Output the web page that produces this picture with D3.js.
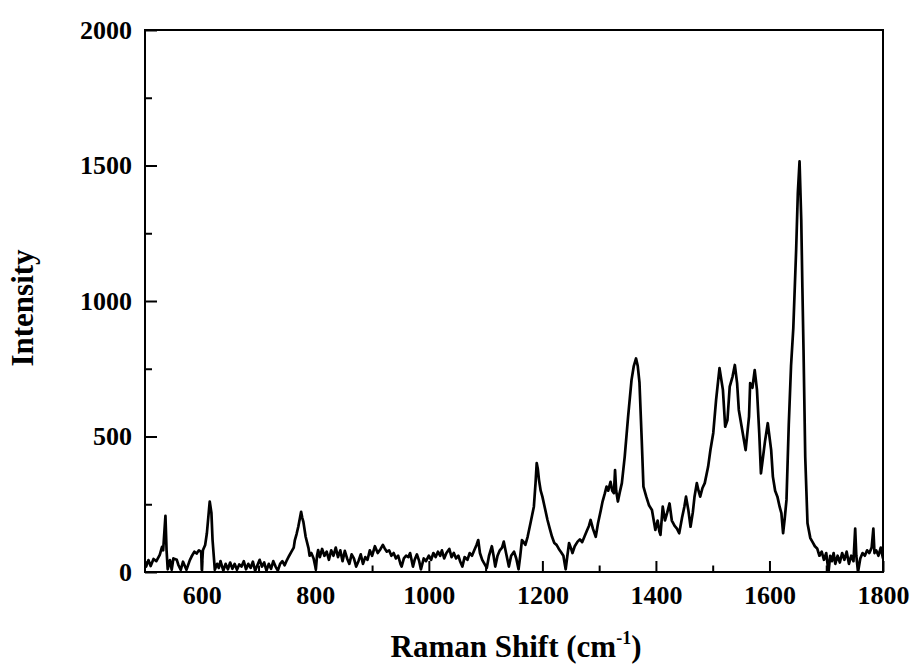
<!DOCTYPE html>
<html>
<head>
<meta charset="utf-8">
<script src="https://cdn.jsdelivr.net/npm/d3@7"></script>
<style>
  html, body { margin: 0; padding: 0; background: #fff; }
  svg { display: block; }
  .tick text { font-family: "Liberation Serif", "Times New Roman", serif; font-weight: bold; font-size: 26px; fill: #000; }
  .title { font-family: "Liberation Serif", "Times New Roman", serif; font-weight: bold; fill: #000; }
</style>
</head>
<body>
<svg id="chart" width="912" height="666"></svg>
<script>
// Raman shift (cm^-1) and intensity
const shift = [500,502,506,510,515,520,526,530,532,536,538,540,544,547,550,556,559,563,567,573,579,582,587,591,595,599,600,602,606,609,614,617,619,623,627,630,633,638,642,646,650,654,658,662,666,670,674,678,682,686,690,694,698,702,706,710,714,718,722,726,730,734,738,742,746,750,754,758,762,764,767,770,773,775,777,779,783,788,790,793,797,801,803,805,808,812,816,820,824,828,832,836,840,844,848,852,856,860,864,868,872,876,880,884,888,892,896,900,905,910,915,919,922,926,930,934,938,942,946,950,952,956,960,964,967,972,975,979,983,986,991,995,1000,1004,1008,1012,1016,1020,1023,1027,1031,1036,1040,1044,1048,1052,1055,1059,1063,1068,1072,1076,1080,1084,1087,1090,1094,1098,1102,1106,1111,1114,1117,1121,1125,1129,1132,1136,1141,1145,1150,1154,1158,1161,1164,1167,1170,1174,1179,1182,1185,1188,1190,1192,1194,1197,1200,1204,1209,1213,1217,1221,1225,1229,1233,1237,1241,1244,1247,1250,1253,1257,1262,1266,1270,1274,1278,1282,1285,1289,1294,1298,1303,1306,1310,1313,1316,1320,1323,1326,1328,1330,1333,1336,1340,1345,1351,1357,1361,1365,1368,1371,1375,1378,1383,1388,1393,1397,1399,1403,1406,1408,1412,1416,1420,1424,1428,1433,1437,1441,1446,1450,1453,1457,1461,1465,1468,1472,1475,1478,1482,1486,1492,1496,1501,1506,1512,1518,1522,1526,1530,1535,1539,1543,1546,1552,1558,1564,1566,1570,1574,1578,1582,1585,1588,1592,1597,1603,1606,1610,1614,1618,1621,1624,1627,1630,1634,1638,1642,1647,1650,1653,1656,1658,1660,1663,1667,1672,1676,1680,1684,1688,1692,1696,1700,1704,1707,1710,1713,1716,1720,1724,1728,1732,1736,1740,1744,1748,1751,1753,1756,1760,1764,1768,1772,1776,1780,1783,1785,1788,1792,1796,1800];
const intensity = [40,20,44,22,48,40,63,93,80,207,80,10,44,8,50,45,25,8,38,8,44,57,75,68,80,74,8,80,100,143,260,218,118,8,30,15,40,5,30,10,35,12,30,8,28,20,40,10,30,15,38,5,25,45,20,35,5,30,12,40,20,5,30,40,25,44,60,75,90,118,140,167,200,222,200,185,130,88,60,70,50,10,60,81,55,85,60,75,45,80,60,90,55,80,40,78,50,30,65,50,20,40,65,30,55,45,80,60,95,70,85,100,88,75,80,60,70,50,60,30,20,50,60,55,70,20,45,65,40,10,50,40,60,45,70,55,75,60,80,50,70,85,55,70,50,60,40,20,55,45,70,60,80,100,118,70,45,30,15,60,95,60,20,60,80,90,112,70,20,60,75,50,10,60,118,110,100,130,180,210,241,330,402,380,340,300,278,240,192,160,130,107,100,85,73,60,10,60,107,90,70,95,112,120,110,130,150,170,192,160,130,180,229,260,290,315,300,333,300,291,376,300,260,291,328,425,573,708,760,788,760,700,487,315,278,245,229,180,155,190,150,137,241,190,220,253,190,170,160,143,200,240,278,230,167,220,278,328,300,278,310,328,389,450,513,635,752,672,536,561,684,721,764,697,598,524,450,573,697,680,745,672,512,364,413,480,549,450,352,300,278,240,217,143,200,266,543,760,900,1188,1400,1515,1300,1050,819,425,180,125,110,95,87,60,75,45,70,0,60,40,70,30,60,35,70,45,75,30,60,40,160,60,0,50,70,60,80,70,90,160,70,80,60,90,50];

const xMajor = [600, 800, 1000, 1200, 1400, 1600, 1800];
const xMinor = [700, 900, 1100, 1300, 1500, 1700];
const yMajor = [0, 500, 1000, 1500, 2000];
const yMinor = [250, 750, 1250, 1750];

const m = { left: 145, top: 30, right: 29, bottom: 94 };
const W = 912, H = 666;
const iw = W - m.left - m.right, ih = H - m.top - m.bottom;

const svg = d3.select("#chart");
const g = svg.append("g").attr("transform", `translate(${m.left},${m.top})`);

const x = d3.scaleLinear().domain([500, 1800]).range([0, iw]);
const y = d3.scaleLinear().domain([0, 2000]).range([ih, 0]);

// minor ticks
g.append("g").attr("transform", `translate(0,${ih})`)
  .call(d3.axisBottom(x).tickValues(xMinor).tickSize(-6.5).tickSizeOuter(0).tickFormat(""))
  .call(s => s.select(".domain").remove())
  .call(s => s.selectAll("line").attr("stroke-width", 2));
g.append("g")
  .call(d3.axisLeft(y).tickValues(yMinor).tickSize(-7).tickSizeOuter(0).tickFormat(""))
  .call(s => s.select(".domain").remove())
  .call(s => s.selectAll("line").attr("stroke-width", 2));

// major ticks
g.append("g").attr("transform", `translate(0,${ih})`)
  .call(d3.axisBottom(x).tickValues(xMajor).tickSize(-11).tickSizeOuter(0).tickPadding(14).tickFormat(d3.format("d")))
  .call(s => s.select(".domain").remove())
  .call(s => s.selectAll("line").attr("stroke-width", 2));
g.append("g")
  .call(d3.axisLeft(y).tickValues(yMajor).tickSize(-12).tickSizeOuter(0).tickPadding(13).tickFormat(d3.format("d")))
  .call(s => s.select(".domain").remove())
  .call(s => s.selectAll("line").attr("stroke-width", 2));

// data line
g.append("clipPath").attr("id", "clip").append("rect").attr("width", iw).attr("height", ih);
const line = d3.line().x((d, i) => x(shift[i])).y(d => y(d));
g.append("path")
  .datum(intensity)
  .attr("clip-path", "url(#clip)")
  .attr("fill", "none")
  .attr("stroke", "#000")
  .attr("stroke-width", 2.7)
  .attr("stroke-linejoin", "round")
  .attr("d", line);

// frame
g.append("rect").attr("width", iw).attr("height", ih)
  .attr("fill", "none").attr("stroke", "#000").attr("stroke-width", 2);

// axis titles
const xt = svg.append("text").attr("class", "title")
  .attr("x", m.left + iw / 2 + 2).attr("y", 657)
  .attr("text-anchor", "middle").style("font-size", "31px");
xt.append("tspan").text("Raman Shift (cm");
xt.append("tspan").attr("dy", -13).style("font-size", "18px").text("-1");
xt.append("tspan").attr("dy", 13).text(")");

svg.append("text").attr("class", "title")
  .attr("transform", `translate(33,${308}) rotate(-90)`)
  .attr("text-anchor", "middle").style("font-size", "31px")
  .text("Intensity");
</script>
</body>
</html>
